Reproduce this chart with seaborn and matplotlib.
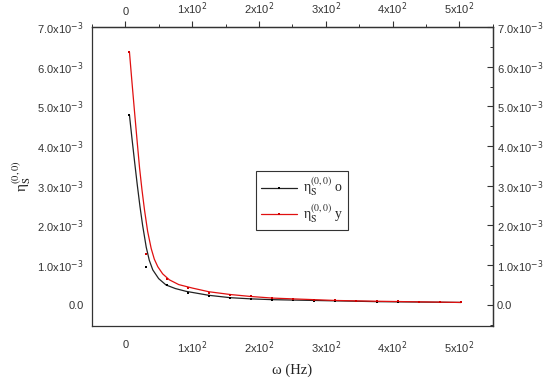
import matplotlib
matplotlib.use("Agg")
import matplotlib.pyplot as plt
import seaborn as sns
import pandas as pd
from matplotlib.lines import Line2D
from matplotlib.font_manager import FontProperties
from matplotlib.ticker import MultipleLocator, FixedLocator, FixedFormatter

# ---- data ----
omega = [6.28, 31.4, 62.8, 94.2, 125.6, 157.0, 188.4, 219.8, 251.2, 282.6,
         314.0, 345.4, 376.8, 408.2, 439.6, 471.0, 502.4]
eta_o = [4.78e-3, 0.95e-3, 0.49e-3, 0.31e-3, 0.23e-3, 0.18e-3, 0.14e-3, 0.125e-3,
         0.11e-3, 0.10e-3, 0.09e-3, 0.085e-3, 0.08e-3, 0.075e-3, 0.07e-3, 0.065e-3, 0.06e-3]
eta_y = [6.37e-3, 1.27e-3, 0.65e-3, 0.42e-3, 0.31e-3, 0.25e-3, 0.21e-3, 0.17e-3,
         0.14e-3, 0.126e-3, 0.11e-3, 0.10e-3, 0.09e-3, 0.085e-3, 0.08e-3, 0.07e-3, 0.065e-3]

# fitted curves
fit_o_x = [6.28, 10.0, 14.0, 18.0, 22.0, 26.0, 31.4, 36.0, 41.2, 50.0, 61.0, 75.0, 91.0,
           125.0, 157.0, 188.0, 220.0, 251.0, 283.0, 314.0, 377.0, 440.0, 502.4]
fit_o_y = [4.78e-3, 4.20e-3, 3.60e-3, 3.02e-3, 2.48e-3, 2.00e-3, 1.45e-3, 1.12e-3, 0.88e-3,
           0.66e-3, 0.50e-3, 0.41e-3, 0.34e-3, 0.24e-3, 0.18e-3, 0.15e-3, 0.13e-3, 0.12e-3,
           0.11e-3, 0.10e-3, 0.08e-3, 0.07e-3, 0.06e-3]
fit_y_x = [6.28, 10.0, 14.0, 18.0, 21.4, 25.0, 28.8, 33.5, 38.8, 43.5, 48.7, 56.0, 66.0,
           80.0, 101.0, 125.0, 157.0, 188.0, 220.0, 251.0, 283.0, 314.0, 377.0, 440.0, 502.4]
fit_y_y = [6.37e-3, 5.62e-3, 4.84e-3, 4.08e-3, 3.45e-3, 2.90e-3, 2.39e-3, 1.85e-3, 1.42e-3,
           1.15e-3, 0.96e-3, 0.78e-3, 0.63e-3, 0.51e-3, 0.42e-3, 0.33e-3, 0.26e-3, 0.21e-3,
           0.17e-3, 0.15e-3, 0.13e-3, 0.11e-3, 0.09e-3, 0.075e-3, 0.06e-3]

x_ticks = [0, 100, 200, 300, 400, 500]
x_tick_labels = ["0", "1x10$^{2}$", "2x10$^{2}$", "3x10$^{2}$", "4x10$^{2}$", "5x10$^{2}$"]
y_ticks = [0.0, 1e-3, 2e-3, 3e-3, 4e-3, 5e-3, 6e-3, 7e-3]
y_tick_labels = ["0.0", "1.0x10$^{-3}$", "2.0x10$^{-3}$", "3.0x10$^{-3}$", "4.0x10$^{-3}$",
                 "5.0x10$^{-3}$", "6.0x10$^{-3}$", "7.0x10$^{-3}$"]
y_label = r"η$_{\mathrm{S}}^{(0,0)}$"
x_label = "ω (Hz)"
legend_labels = [r"η$_{\mathrm{S}}^{(0,0)}$ o", r"η$_{\mathrm{S}}^{(0,0)}$ y"]

# ---- styling ----
sns.set_theme(style="white")
plt.rcParams["font.family"] = ["Liberation Sans", "DejaVu Sans"]
plt.rcParams["axes.linewidth"] = 0.9

c_black = "#222222"
c_red = "#e01010"
axc = "#333333"

fig = plt.figure(figsize=(5.5, 3.82), dpi=100)
ax = fig.add_axes([0.167, 0.147, 0.729, 0.782])

df_o = pd.DataFrame({"x": fit_o_x, "y": fit_o_y})
df_y = pd.DataFrame({"x": fit_y_x, "y": fit_y_y})
sns.lineplot(data=df_o, x="x", y="y", ax=ax, color=c_black, lw=0.9, sort=False)
sns.lineplot(data=df_y, x="x", y="y", ax=ax, color=c_red, lw=0.9, sort=False)
pts = pd.DataFrame({"x": omega, "o": eta_o, "yy": eta_y})
sns.scatterplot(data=pts, x="x", y="o", ax=ax, color="black", marker="s", s=4,
                linewidth=0, zorder=5)
sns.scatterplot(data=pts, x="x", y="yy", ax=ax, color="#d00000", marker="s", s=4,
                linewidth=0, zorder=6)

ax.set_xlim(-50, 550)
ax.set_ylim(-0.53e-3, 7.0e-3)

tick_fs = 8
for spine in ax.spines.values():
    spine.set_color(axc)
    spine.set_visible(True)

ax.xaxis.set_major_locator(FixedLocator(x_ticks))
ax.xaxis.set_major_formatter(FixedFormatter(x_tick_labels))
ax.xaxis.set_minor_locator(MultipleLocator(50))
ax.yaxis.set_major_locator(FixedLocator(y_ticks))
ax.yaxis.set_major_formatter(FixedFormatter(y_tick_labels))
ax.yaxis.set_minor_locator(MultipleLocator(0.5e-3))
ax.tick_params(axis="both", which="major", direction="out", length=4, width=0.8,
               color=axc, labelsize=tick_fs, labelcolor=axc, pad=2)
ax.tick_params(axis="both", which="minor", direction="out", length=2.5, width=0.7,
               color=axc)
ax.tick_params(axis="x", which="major", pad=6)

# top axis
axt = ax.secondary_xaxis("top")
axt.xaxis.set_major_locator(FixedLocator(x_ticks))
axt.xaxis.set_major_formatter(FixedFormatter(x_tick_labels))
axt.xaxis.set_minor_locator(MultipleLocator(50))
axt.tick_params(which="major", direction="out", length=4, width=0.8, color=axc,
                labelsize=tick_fs, labelcolor=axc, pad=3)
axt.tick_params(which="minor", direction="out", length=2.5, width=0.7, color=axc)
axt.spines["top"].set_color(axc)

# right axis
axr = ax.secondary_yaxis("right")
axr.yaxis.set_major_locator(FixedLocator(y_ticks))
axr.yaxis.set_major_formatter(FixedFormatter(y_tick_labels))
axr.yaxis.set_minor_locator(MultipleLocator(0.5e-3))
axr.tick_params(which="major", direction="in", length=4, width=0.8, color=axc,
                labelsize=tick_fs, labelcolor=axc, pad=3)
axr.tick_params(which="minor", direction="in", length=2.5, width=0.7, color=axc)
axr.spines["right"].set_color(axc)

for a in (ax.get_xticklabels() + ax.get_yticklabels() + axt.get_xticklabels()
          + axr.get_yticklabels()):
    a.set_math_fontfamily("dejavusans")

ax.set_xlabel(x_label, family=["Liberation Serif", "DejaVu Serif"], fontsize=10.5,
              color="#222222", labelpad=5)
ax.set_ylabel(y_label, family=["Liberation Serif", "DejaVu Serif"], fontsize=11,
              color="#222222", labelpad=3, math_fontfamily="stix")

handles = [Line2D([], [], color=c_black, lw=0.9, marker="s", markersize=1.8,
                  markerfacecolor="black", markeredgewidth=0),
           Line2D([], [], color=c_red, lw=0.9, marker="s", markersize=1.8,
                  markerfacecolor="#d00000", markeredgewidth=0)]
lp = FontProperties(family=["Liberation Serif", "DejaVu Serif"], size=10,
                    math_fontfamily="stix")
leg = ax.legend(handles, legend_labels, loc="center", bbox_to_anchor=(0.524, 0.421),
                prop=lp, frameon=True, fancybox=False, edgecolor=axc,
                framealpha=1, handlelength=2.6, handletextpad=0.4,
                borderpad=0.35, labelspacing=0.3, numpoints=1)
leg.get_frame().set_linewidth(0.8)

fig.savefig("out.png", dpi=100)
